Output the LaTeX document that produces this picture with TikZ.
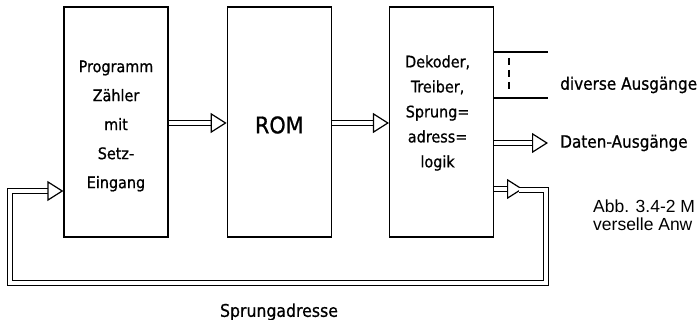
\documentclass[tikz,border=0pt]{standalone}
\usepackage{fontspec}
\usepackage{tikz}
\usetikzlibrary{arrows.meta,positioning}
\newfontfamily\dinfont[FakeBold=0.8]{DejaVu Sans Condensed}
\newfontfamily\capfont{Liberation Sans}
\tikzset{
  blk/.style={draw,line width=1.3pt,minimum width=104pt,minimum height=230pt,inner sep=0pt},
  txt/.style={align=center,inner sep=0pt},
  bus/.style={double,double distance=4pt,line width=1.2pt,-{Triangle[open,length=16pt,width=20pt,line width=1.2pt]}},
  wire/.style={line width=1.2pt},
  lbl/.style={font=\dinfont\fontsize{17}{19}\selectfont,anchor=west,inner sep=0pt},
}

\begin{document}
\begin{tikzpicture}[x=1pt,y=-1pt]
\useasboundingbox (0,0) rectangle (697,320);
% blocks
\node[blk] (pc) at (116,122) {};
\node[blk,right=58pt of pc] (rom) {};
\node[blk,right=57pt of rom] (dek) {};
\node[txt,font=\dinfont\fontsize{16}{29}\selectfont] (pctxt) at ([yshift=-4pt]pc.center) {Programm\\Zähler\\mit\\Setz-\\Eingang};
\node[txt,font=\dinfont\fontsize{23}{25}\selectfont] (romtxt) at ([yshift=-3pt]rom.center) {ROM};
\node[txt,font=\dinfont\fontsize{16}{25}\selectfont] (dektxt) at ([xshift=-4pt,yshift=9pt]dek.center) {Dekoder,\\Treiber,\\Sprung=\\adress=\\logik};
% outputs
\coordinate (d1) at (548,52);
\coordinate (d2) at (548,98);
\coordinate (s1) at (509,58);
\coordinate (s2) at (509,92);
\coordinate (do) at (548,143);
\draw[wire] (d1 -| dek.east) -- (d1);
\draw[wire] (d2 -| dek.east) -- (d2);
\draw[wire,dash pattern=on 7pt off 5pt] (s1) -- (s2);
\draw[bus] (dek.east |- do) -- (do);
\node[lbl] (div) at (560,85) {diverse Ausgänge};
\node[lbl] (dat) at (560,143) {Daten-Ausgänge};
% main path
\draw[bus] (pc.east |- 0,123) -- (rom.west |- 0,123);
\draw[bus] (rom.east |- 0,123) -- (dek.west |- 0,123);
% jump address loop
\coordinate (fa) at (0,189);
\coordinate (fb) at (523,189);
\coordinate (fc) at (546,190);
\coordinate (fd) at (546,283);
\coordinate (fe) at (10,283);
\coordinate (ff) at (10,191);
\draw[bus] (dek.east |- fa) -- (fb);
\draw[bus] ([xshift=-4pt]fb |- fc) -- (fc) -- (fd) -- (fe) -- (ff) -- (pc.west |- ff);
\node[font=\dinfont\fontsize{17.5}{20}\selectfont] (spr) at (279,312) {Sprungadresse};
% caption
\node[font=\capfont\fontsize{17.5}{18}\selectfont,anchor=north west,align=left,inner sep=0pt] (cap) at (593,200) {Abb. 3.4-2 M\\verselle Anw};
\end{tikzpicture}
\end{document}
